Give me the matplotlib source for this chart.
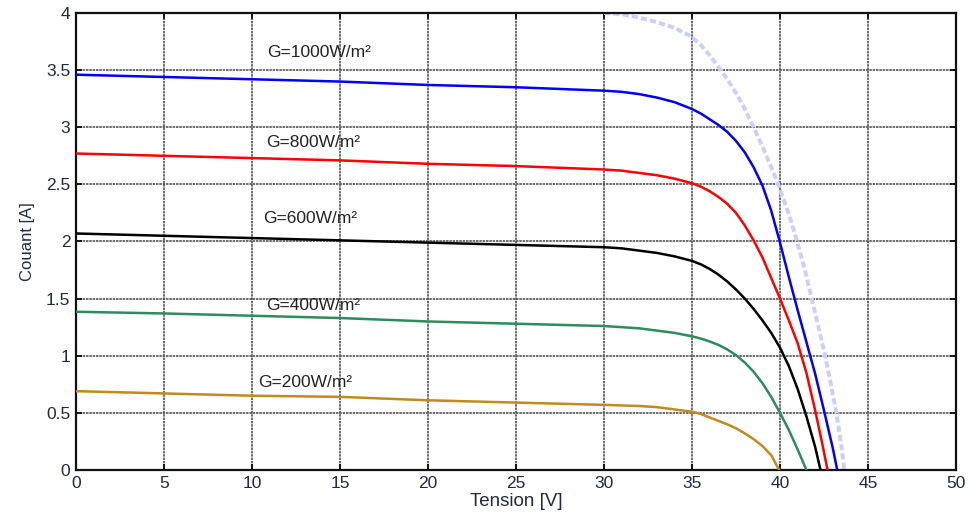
"""I-V curves of a PV module for several irradiance levels (G = 200..1000 W/m²)."""
import matplotlib
matplotlib.use("Agg")
import matplotlib.pyplot as plt

plt.rcParams["font.family"] = ["Liberation Sans", "DejaVu Sans"]

TEXT_COLOR = "#1f2a45"

# ---- data (Tension [V], Courant [A]) ----
V_1000 = [0, 5, 10, 15, 20, 25, 30, 31, 32, 33, 34, 35, 35.5, 36, 36.5, 37, 37.5, 38, 38.5,
          39, 39.5, 40, 40.5, 41, 41.5, 42, 42.5, 43, 43.25]
I_1000 = [3.46, 3.44, 3.42, 3.40, 3.37, 3.35, 3.32, 3.31, 3.29, 3.26, 3.22, 3.16, 3.12, 3.07, 3.02,
          2.96, 2.88, 2.78, 2.65, 2.49, 2.27, 1.99, 1.69, 1.40, 1.12, 0.84, 0.52, 0.19, 0.0]

V_800 = [0, 5, 10, 15, 20, 25, 30, 31, 32, 33, 34, 35, 35.5, 36, 36.5, 37, 37.5, 38, 38.5,
         39, 39.5, 40, 40.5, 41, 41.5, 42, 42.4, 42.7]
I_800 = [2.77, 2.75, 2.73, 2.71, 2.68, 2.66, 2.63, 2.62, 2.60, 2.58, 2.55, 2.51, 2.48, 2.44, 2.39,
         2.33, 2.25, 2.14, 2.01, 1.86, 1.68, 1.50, 1.31, 1.11, 0.85, 0.52, 0.23, 0.0]

V_600 = [0, 5, 10, 15, 20, 25, 30, 31, 32, 33, 34, 35, 35.5, 36, 36.5, 37, 37.5, 38, 38.5,
         39, 39.5, 40, 40.5, 41, 41.5, 42, 42.3]
I_600 = [2.07, 2.05, 2.03, 2.01, 1.99, 1.97, 1.95, 1.94, 1.92, 1.90, 1.87, 1.83, 1.80, 1.76, 1.71,
         1.65, 1.58, 1.50, 1.41, 1.31, 1.20, 1.07, 0.91, 0.71, 0.47, 0.20, 0.0]

V_400 = [0, 5, 10, 15, 20, 25, 30, 31, 32, 33, 34, 35, 35.5, 36, 36.5, 37, 37.5, 38, 38.5,
         39, 39.5, 40, 40.5, 41, 41.5]
I_400 = [1.385, 1.37, 1.35, 1.33, 1.30, 1.28, 1.26, 1.25, 1.24, 1.22, 1.20, 1.17, 1.15, 1.125, 1.095,
         1.055, 1.005, 0.94, 0.86, 0.76, 0.64, 0.50, 0.35, 0.18, 0.0]

V_200 = [0, 5, 10, 15, 20, 25, 30, 31, 32, 33, 34, 35, 35.5, 36, 36.5, 37, 37.5, 38, 38.5,
         39, 39.5, 39.95]
I_200 = [0.69, 0.67, 0.65, 0.64, 0.61, 0.59, 0.57, 0.565, 0.56, 0.55, 0.53, 0.51, 0.49, 0.46, 0.43,
         0.40, 0.365, 0.32, 0.27, 0.21, 0.13, 0.0]

# faint dotted curve in the background (clipped at the top)
V_REF = [30.0, 31, 32, 33, 34, 34.9, 35.5, 36, 36.5, 37, 37.5, 38, 38.5, 39, 39.5, 39.9,
         40.5, 40.95, 41.4, 41.8, 42.2, 42.56, 42.9, 43.2, 43.45, 43.65]
I_REF = [4.0, 3.99, 3.96, 3.92, 3.87, 3.80, 3.72, 3.63, 3.53, 3.42, 3.30, 3.16, 3.0, 2.83, 2.65, 2.50,
         2.24, 2.01, 1.76, 1.50, 1.24, 1.00, 0.74, 0.50, 0.25, 0.0]

LABELS = ["G=1000W/m²", "G=800W/m²", "G=600W/m²", "G=400W/m²", "G=200W/m²"]
LABEL_X = [10.87, 10.8, 10.65, 10.8, 10.36]
LABEL_Y = [3.65, 2.87, 2.20, 1.44, 0.77]

X_TICKS = [0, 5, 10, 15, 20, 25, 30, 35, 40, 45, 50]
Y_TICKS = [0, 0.5, 1, 1.5, 2, 2.5, 3, 3.5, 4]
Y_TICK_LABELS = ["0", "0.5", "1", "1.5", "2", "2.5", "3", "3.5", "4"]


def main():
    fig = plt.figure(figsize=(9.69, 5.20), dpi=100)
    ax = fig.add_axes([0.0784, 0.0962, 0.9082, 0.8788])

    ax.plot(V_REF, I_REF, color="#ccceff", lw=2.8, ls=(0, (1.6, 0.8)), zorder=2)
    ax.plot(V_1000, I_1000, color="#0000ff", lw=1.8, zorder=3)
    ax.plot(V_800, I_800, color="#ff0000", lw=1.8, zorder=3)
    ax.plot(V_600, I_600, color="#000000", lw=1.8, zorder=3)
    ax.plot(V_400, I_400, color="#2e8b5c", lw=1.8, zorder=3)
    ax.plot(V_200, I_200, color="#c08a1e", lw=1.8, zorder=3)

    for txt, x, y in zip(LABELS, LABEL_X, LABEL_Y):
        ax.text(x, y, txt, fontsize=12.5, color="#222222", ha="left", va="center", zorder=4)

    ax.set_xlim(0, 50)
    ax.set_ylim(0, 4)
    ax.set_xticks(X_TICKS)
    ax.set_yticks(Y_TICKS)
    ax.set_yticklabels(Y_TICK_LABELS)
    ax.tick_params(direction="in", length=4, width=1.2, top=True, right=True,
                   labelsize=12.5, labelcolor=TEXT_COLOR, pad=4)
    ax.grid(True, color="#555555", lw=1.2, ls=(0, (1.5, 0.5)), zorder=1)
    ax.set_axisbelow(True)
    for sp in ax.spines.values():
        sp.set_linewidth(1.6)
        sp.set_color("#111111")

    ax.set_xlabel("Tension [V]", fontsize=13.5, color=TEXT_COLOR, labelpad=2)
    ax.set_ylabel("Couant [A]", fontsize=12, color=TEXT_COLOR, labelpad=8)

    fig.savefig("out.png", dpi=100)
    plt.close(fig)


if __name__ == "__main__":
    main()
